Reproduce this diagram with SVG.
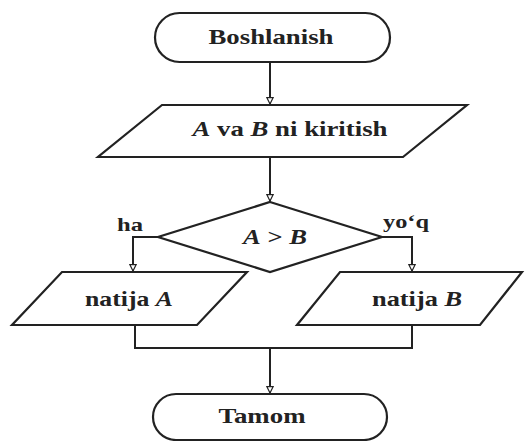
<svg xmlns="http://www.w3.org/2000/svg" width="525" height="441" viewBox="0 0 525 441">
<style>
.shape{fill:#fff;stroke:#222;stroke-width:2.2}
.line{fill:none;stroke:#222;stroke-width:2}
text{font-family:"Liberation Serif","Times New Roman",serif;font-weight:bold;fill:#222}
.t{font-size:22px}
.s{font-size:19px}
</style>
<defs>
<marker id="arr" viewBox="0 0 10 10" refX="9" refY="5" markerWidth="8" markerHeight="8" orient="auto" markerUnits="userSpaceOnUse">
<path d="M1,1 L9,5 L1,9 Z" fill="#fff" stroke="#222" stroke-width="1.5"/>
</marker>
</defs>
<rect width="525" height="441" fill="#fff"/>
<g id="connectors">
<path class="line" d="M270,62 V104" marker-end="url(#arr)"/>
<path class="line" d="M270,157 V201" marker-end="url(#arr)"/>
<path class="line" d="M158,237 H133 V271" marker-end="url(#arr)"/>
<path class="line" d="M382,237 H412 V271" marker-end="url(#arr)"/>
<path class="line" d="M135,325 V348 H412 V325"/>
<path class="line" d="M270,348 V393" marker-end="url(#arr)"/>
</g>
<g id="start">
<rect class="shape" x="155" y="13" width="235" height="49" rx="24.5"/>
<text class="t" x="271" y="44" text-anchor="middle" textLength="125" lengthAdjust="spacingAndGlyphs">Boshlanish</text>
</g>
<g id="input">
<polygon class="shape" points="162,105 467,105 403,157 98,157"/>
<text class="t" x="290" y="136" text-anchor="middle" textLength="195" lengthAdjust="spacingAndGlyphs"><tspan font-style="italic">A</tspan> va <tspan font-style="italic">B</tspan> ni kiritish</text>
</g>
<g id="decision">
<polygon class="shape" points="270,202 382,237 270,272 158,237"/>
<text class="t" x="275" y="244" text-anchor="middle" textLength="64" lengthAdjust="spacingAndGlyphs"><tspan font-style="italic">A</tspan> &gt; <tspan font-style="italic">B</tspan></text>
</g>
<text class="s" x="130" y="231" text-anchor="middle" textLength="26" lengthAdjust="spacingAndGlyphs">ha</text>
<text class="s" x="406" y="228" text-anchor="middle" textLength="46" lengthAdjust="spacingAndGlyphs">yo‘q</text>
<g id="outA">
<polygon class="shape" points="62,272 247,272 197,325 12,325"/>
<text class="t" x="129" y="306" text-anchor="middle" textLength="88" lengthAdjust="spacingAndGlyphs">natija <tspan font-style="italic">A</tspan></text>
</g>
<g id="outB">
<polygon class="shape" points="340,272 522,272 480,325 297,325"/>
<text class="t" x="417" y="306" text-anchor="middle" textLength="90" lengthAdjust="spacingAndGlyphs">natija <tspan font-style="italic">B</tspan></text>
</g>
<g id="end">
<rect class="shape" x="153" y="394" width="234" height="46" rx="23"/>
<text class="t" x="262" y="423" text-anchor="middle" textLength="87" lengthAdjust="spacingAndGlyphs">Tamom</text>
</g>
</svg>
